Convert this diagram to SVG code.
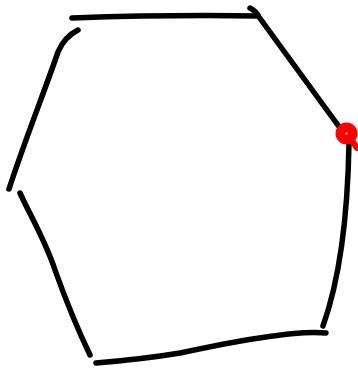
<svg xmlns="http://www.w3.org/2000/svg" width="358" height="371" viewBox="0 0 358 371">
  <style>
    .s { fill: none; stroke: #000; stroke-width: 5.5; stroke-linecap: round; stroke-linejoin: round; }
    .r { fill: none; stroke: #ff0000; stroke-linecap: round; }
  </style>
  <rect width="358" height="371" fill="#fff"/>
  <g id="strokes">
    <path class="s" d="M72 18 C 130 16, 200 15, 258 16"/>
    <path class="s" d="M250 8 C 254 10, 257 13, 259 17 L 340 128"/>
    <path class="s" d="M349 143 C 348 200, 343 270, 323 326"/>
    <path class="s" d="M326 333 C 300 330, 240 340, 180 353 C 150 358, 120 361, 96 363"/>
    <path class="s" d="M20 193 C 30 215, 45 240, 55 270 C 65 298, 78 330, 90 355"/>
    <path class="s" d="M9 189 C 25 140, 45 90, 58 52 C 63 40, 70 34, 78 30"/>
  </g>
  <g id="cursor">
    <circle class="r" cx="346.5" cy="133.5" r="6" stroke-width="10"/>
    <path class="r" d="M351 139 L 357 148" stroke-width="6"/>
  </g>
</svg>
